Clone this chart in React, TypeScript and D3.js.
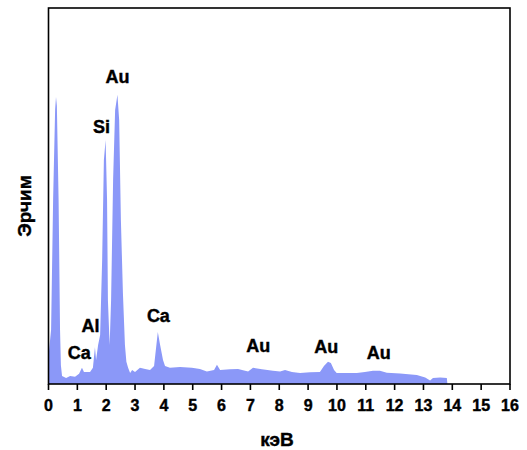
import React from "react";
import * as d3 from "d3";

// EDS spectrum: energy (keV) and counts (arbitrary units, 100 = top of frame)
const energy = [
  0.0, 0.02, 0.09, 0.16, 0.23, 0.26, 0.29, 0.35, 0.4, 0.43, 0.47, 0.61, 0.75, 0.92,
  1.06, 1.16, 1.23, 1.44, 1.54, 1.61, 1.65, 1.72, 1.79, 1.86, 1.92, 1.98, 2.03, 2.06,
  2.12, 2.17, 2.24, 2.31, 2.39, 2.45, 2.51, 2.58, 2.65, 2.7, 2.76, 2.83, 2.9, 3.0,
  3.17, 3.35, 3.52, 3.66, 3.79, 3.87, 3.97, 4.04, 4.21, 4.56, 4.97, 5.25, 5.49, 5.74,
  5.84, 5.95, 6.29, 6.57, 6.92, 7.09, 7.4, 7.78, 8.03, 8.2, 8.44, 8.72, 9.07, 9.41,
  9.55, 9.69, 9.79, 9.9, 9.99, 10.28, 10.69, 10.97, 11.25, 11.49, 11.73, 12.19, 12.77,
  13.06, 13.23, 13.33, 13.58, 13.81, 13.83,
];
const counts = [
  6.4, 9, 14.4, 49, 73, 76.3, 74, 49, 14.4, 5, 2.1, 1.6, 2.1, 1.9,
  2.7, 4.3, 3.2, 3.2, 4.3, 9.8, 6.4, 10.4, 13, 33, 59.6, 64.9, 49, 22.3,
  10.4, 22.3, 54.3, 72.9, 76.9, 70.2, 43.6, 24.2, 10.4, 5.9, 4.3, 2.9, 3.7, 3.2,
  4.3, 4, 3.7, 4.8, 13.8, 10.4, 6.4, 4.8, 4.3, 4.5, 4.3, 4, 3.3, 3.7,
  5.1, 3.7, 3.9, 4, 3.3, 4.3, 3.9, 3.5, 3.3, 3.7, 3.2, 2.9, 3.1, 3.2,
  4.8, 5.9, 5.6, 3.7, 2.9, 2.9, 2.9, 3.2, 3.5, 3.5, 3.0, 2.8, 2.4,
  1.7, 0.9, 1.6, 1.7, 1.6, 0,
];

// Element labels: name, energy (keV), label baseline height (counts units)
const peakNames = ["Au", "Si", "Al", "Ca", "Ca", "Au", "Au", "Au"];
const peakEnergy = [2.39, 1.84, 1.46, 1.07, 3.81, 7.27, 9.63, 11.45];
const peakLabelY = [80.0, 66.8, 13.9, 6.6, 16.4, 8.6, 8.3, 6.6];

const xTicks = d3.range(0, 17);

const W = 527;
const H = 450;
const margin = { left: 48.5, right: 17, top: 8, bottom: 66 };

export default function App() {
  const x = d3
    .scaleLinear()
    .domain([0, 16])
    .range([margin.left, W - margin.right]);
  const y = d3
    .scaleLinear()
    .domain([0, 100])
    .range([H - margin.bottom, margin.top]);

  const data = energy.map((e, i) => ({ e, c: counts[i] }));
  const area = d3
    .area<{ e: number; c: number }>()
    .x((d) => x(d.e))
    .y0(y(0))
    .y1((d) => y(d.c));

  const font = "'Liberation Sans', Arial, sans-serif";
  const x0 = x(0);
  const x1 = x(16);
  const yb = y(0);
  const yt = y(100);

  return (
    <svg
      width={W}
      height={H}
      style={{ position: "absolute", left: 0, top: 0, background: "#fff" }}
      fontFamily={font}
      fontWeight="bold"
    >
      <path d={area(data) ?? ""} fill="#8b98f8" />
      <rect
        x={x0}
        y={yt}
        width={x1 - x0}
        height={yb - yt}
        fill="none"
        stroke="#000"
        strokeWidth={1.6}
      />
      <g stroke="#000" strokeWidth={0.4}>
        {xTicks.map((t) => (
          <g key={t}>
            <line x1={x(t)} x2={x(t)} y1={yb} y2={yb + 6} strokeWidth={1.6} />
            <text x={x(t)} y={yb + 27} textAnchor="middle" fontSize={16}>
              {t}
            </text>
          </g>
        ))}
        {peakNames.map((n, i) => (
          <text
            key={i}
            x={x(peakEnergy[i])}
            y={y(peakLabelY[i])}
            textAnchor="middle"
            fontSize={18}
          >
            {n}
          </text>
        ))}
        <text x={277} y={446} textAnchor="middle" fontSize={19}>
          кэВ
        </text>
        <text
          transform={`translate(31,206) rotate(-90)`}
          textAnchor="middle"
          fontSize={19}
        >
          Эрчим
        </text>
      </g>
    </svg>
  );
}
